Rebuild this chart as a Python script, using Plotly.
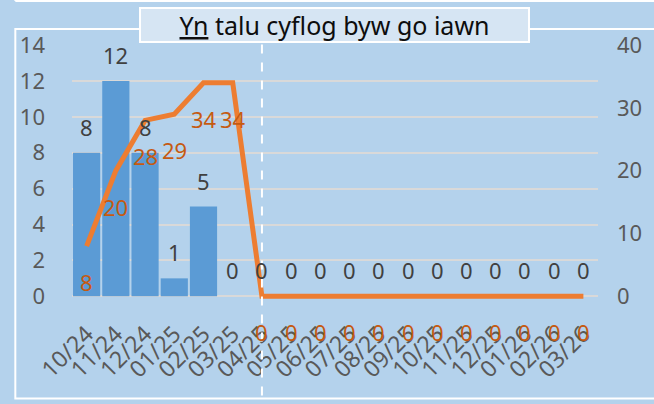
import plotly.graph_objects as go

categories = ["10/24", "11/24", "12/24", "01/25", "02/25", "03/25", "04/25", "05/25", "06/25",
              "07/25", "08/25", "09/25", "10/25", "11/25", "12/25", "01/26", "02/26", "03/26"]
bar_values = [8, 12, 8, 1, 5, 0, 0, 0, 0, 0, 0, 0, 0, 0, 0, 0, 0, 0]
line_values = [8, 20, 28, 29, 34, 34, 0, 0, 0, 0, 0, 0, 0, 0, 0, 0, 0, 0]
left_ticks = [0, 2, 4, 6, 8, 10, 12, 14]
right_ticks = [0, 10, 20, 30, 40]
title_text = "<u>Yn</u> talu cyflog byw go iawn"
marker_category = "04/25"

W, H = 654, 404
L, R = 72, 601
TOP, ZERO = 45, 296
ext = 0.15
unit = (ZERO - TOP) / 14.0
BOT = ZERO + ext * unit

def px_x(p):
    return (p - L) / (R - L)

def px_y(p):
    return (BOT - p) / (BOT - TOP)

FONT = "Noto Sans"
BG = "#b4d2ec"

fig = go.Figure()
fig.add_trace(go.Bar(
    x=categories, y=bar_values, marker=dict(color="#5b9bd5", line=dict(width=0)),
    yaxis="y", showlegend=False, hoverinfo="skip"))
fig.add_trace(go.Scatter(
    x=categories, y=line_values, mode="lines", line=dict(color="#ed7d31", width=5),
    yaxis="y2", showlegend=False, hoverinfo="skip"))

annotations = []
for c, v in zip(categories, bar_values):
    annotations.append(dict(x=c, y=v, xref="x", yref="y", text=str(v), showarrow=False,
                            yshift=26, font=dict(family=FONT, size=22, color="#404040")))
for c, v in zip(categories, line_values):
    annotations.append(dict(x=c, y=v, xref="x", yref="y2", text=str(v), showarrow=False,
                            yshift=-36, font=dict(family=FONT, size=22, color="#c55a11")))
annotations.append(dict(x=px_x(336), y=px_y(25), xref="paper", yref="paper", text=title_text,
                        showarrow=False, width=387, height=32, bgcolor="#d6e5f3",
                        bordercolor="white", borderwidth=2, borderpad=0,
                        xanchor="center", yanchor="middle",
                        font=dict(family=FONT, size=25, color="#0d0d0d")))

shapes = [
    dict(type="line", xref="paper", yref="paper", x0=px_x(15), x1=px_x(660), y0=px_y(1), y1=px_y(1),
         line=dict(color="white", width=2)),
    dict(type="line", xref="paper", yref="paper", x0=px_x(15), x1=px_x(15), y0=px_y(-2), y1=px_y(1),
         line=dict(color="white", width=2)),
    dict(type="rect", xref="paper", yref="paper", x0=px_x(15), x1=px_x(660), y0=px_y(398), y1=px_y(29),
         line=dict(color="white", width=2)),
    dict(type="line", xref="x", yref="paper", x0=marker_category, x1=marker_category,
         y0=px_y(395), y1=px_y(43), line=dict(color="white", width=2, dash="dash"), layer="above"),
]

fig.update_layout(
    width=W, height=H,
    margin=dict(l=L, r=W - R, t=TOP, b=H - BOT, pad=0),
    paper_bgcolor=BG, plot_bgcolor=BG,
    bargap=0.07,
    annotations=annotations, shapes=shapes,
    xaxis=dict(type="category", tickangle=-45, showgrid=False, showline=False, ticks="",
               tickfont=dict(family=FONT, size=23, color="#595959"), ticklabelstandoff=16),
    yaxis=dict(range=[-ext, 14], tickvals=left_ticks, showgrid=True, gridcolor="#d9d9d9", gridwidth=1.5,
               zeroline=False, showline=False, ticks="",
               tickfont=dict(family=FONT, size=22, color="#595959"), ticklabelstandoff=26),
    yaxis2=dict(range=[-ext * 40 / 14, 40], tickvals=right_ticks, overlaying="y", side="right",
                showgrid=False, zeroline=False, showline=False, ticks="",
                tickfont=dict(family=FONT, size=22, color="#595959"), ticklabelstandoff=18),
)

fig.write_html("out.html", config={"displayModeBar": False},
               post_script="document.body.style.margin='0';document.body.style.background='%s';" % BG)
